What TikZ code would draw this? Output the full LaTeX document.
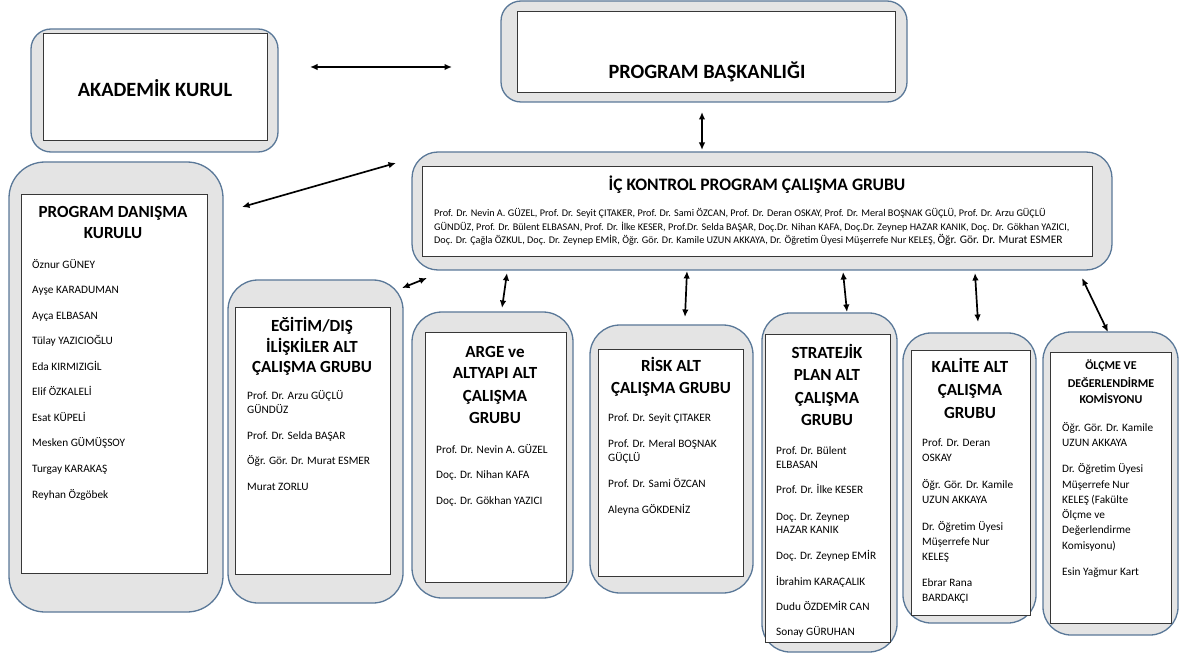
\documentclass[tikz,border=0pt]{standalone}
\usepackage{fontspec}
\setmainfont{Carlito}
\usetikzlibrary{arrows.meta,calc}
\definecolor{outline}{RGB}{90,120,152}
\definecolor{outerfill}{RGB}{228,228,228}
\definecolor{innerline}{RGB}{55,55,55}
\tikzset{
 outerbox/.style={draw=outline, fill=outerfill, line width=1.3pt, inner sep=0pt, outer sep=0pt, anchor=north west},
 innerbox/.style={draw=innerline, fill=white, line width=1pt, inner sep=0pt, outer sep=0pt, anchor=north west},
 ttl/.style={anchor=base, inner sep=0pt, font=\bfseries\fontsize{17}{20}\selectfont},
 bigttl/.style={anchor=base, inner sep=0pt, font=\bfseries\fontsize{20.3}{23}\selectfont},
 icttl/.style={anchor=base, inner sep=0pt, font=\bfseries\fontsize{17.5}{20}\selectfont},
 ttlsmall/.style={anchor=base, inner sep=0pt, font=\bfseries\fontsize{12}{14}\selectfont},
 itemtxt/.style={anchor=base west, inner sep=0pt, font=\fontsize{11.3}{13}\selectfont},
 bodytxt/.style={anchor=base west, inner sep=0pt, font=\fontsize{10.2}{12}\selectfont},
 arr/.style={{Latex[length=7.5pt,width=6.5pt]}-{Latex[length=7.5pt,width=6.5pt]}, line width=1.7pt, black},
}
\newcommand\mybox[6]{\node[outerbox, rounded corners=#6pt, minimum width={(#4-#2)*1pt}, minimum height={(#5-#3)*1pt}] (#1) at (#2,#3) {};}
\newcommand\myinner[5]{\node[innerbox, minimum width={(#4-#2)*1pt}, minimum height={(#5-#3)*1pt}] (#1) at (#2,#3) {};}
\begin{document}
\begin{tikzpicture}[x=1pt,y=-1pt]
\useasboundingbox (0,0) rectangle (1179,655);

% AKADEMIK KURUL
\mybox{ak}{31}{29}{278}{152}{20}
\myinner{akin}{43}{34}{267}{141}
\node[bigttl] (akt) at (155,96.5) {AKADEMİK KURUL};

% PROGRAM BASKANLIGI
\mybox{pb}{501}{1}{907}{102}{20}
\myinner{pbin}{517}{12}{895}{93}
\node[bigttl] (pbt) at (707,78.5) {PROGRAM BAŞKANLIĞI};

% IC KONTROL
\mybox{ic}{412}{152}{1112}{270}{26}
\myinner{icin}{422}{167}{1092}{257}
\node[icttl] (ict) at (757,190.8) {İÇ KONTROL PROGRAM ÇALIŞMA GRUBU};
\node[bodytxt] (icb1) at (434,216.3) {Prof. Dr. Nevin A. GÜZEL, Prof. Dr. Seyit ÇITAKER, Prof. Dr. Sami ÖZCAN, Prof. Dr. Deran OSKAY, Prof. Dr. Meral BOŞNAK GÜÇLÜ, Prof. Dr. Arzu GÜÇLÜ};
\node[bodytxt] (icb2) at (434,230.3) {GÜNDÜZ, Prof. Dr. Bülent ELBASAN, Prof. Dr. İlke KESER, Prof.Dr. Selda BAŞAR, Doç.Dr. Nihan KAFA, Doç.Dr. Zeynep HAZAR KANIK, Doç. Dr. Gökhan YAZICI,};
\node[bodytxt] (icb3) at (434,243.3) {Doç. Dr. Çağla ÖZKUL, Doç. Dr. Zeynep EMİR, Öğr. Gör. Dr. Kamile UZUN AKKAYA, Dr. Öğretim Üyesi Müşerrefe Nur KELEŞ, {\fontsize{11.5}{13}\selectfont Öğr. Gör. Dr. Murat ESMER}};

% PROGRAM DANISMA KURULU
\mybox{pdk}{9}{162}{223}{612}{36}
\myinner{pdkin}{21}{195}{207}{573}
\foreach \yy/\txt [count=\i] in {212/PROGRAM DANIŞMA, 233/KURULU}
  \node[ttl] (pdkt\i) at (113,\yy+5.5) {\txt};
\foreach \yy/\txt [count=\i] in {265/Öznur GÜNEY, 290/Ayşe KARADUMAN, 316/Ayça ELBASAN, 341/Tülay YAZICIOĞLU, 367/Eda KIRMIZIGİL, 392/Elif ÖZKALELİ, 418/Esat KÜPELİ, 443/Mesken GÜMÜŞSOY, 469/Turgay KARAKAŞ, 495/Reyhan Özgöbek}
  \node[itemtxt] (pdki\i) at (32,\yy+3.6) {\txt};

% EGITIM
\mybox{egt}{228}{280}{403}{603}{30}
\myinner{egtin}{235}{308}{390}{574}
\foreach \yy/\txt [count=\i] in {326/{EĞİTİM/DIŞ}, 347/İLİŞKİLER ALT, 367/ÇALIŞMA GRUBU}
  \node[ttl] (egtt\i) at (312,\yy+5.5) {\txt};
\foreach \yy/\txt [count=\i] in {396/Prof. Dr. Arzu GÜÇLÜ, 410/GÜNDÜZ, 436/Prof. Dr. Selda BAŞAR, 461/Öğr. Gör. Dr. Murat ESMER, 487/Murat ZORLU}
  \node[itemtxt] (egti\i) at (247,\yy+3.6) {\txt};

% ARGE
\mybox{arge}{412}{312}{573}{598}{30}
\myinner{argein}{425}{333}{566}{582}
\foreach \yy/\txt [count=\i] in {352/ARGE ve, 373/ALTYAPI ALT, 396/ÇALIŞMA, 418/GRUBU}
  \node[ttl] (arget\i) at (495,\yy+5.5) {\txt};
\foreach \yy/\txt [count=\i] in {450/Prof. Dr. Nevin A. GÜZEL, 475/Doç. Dr. Nihan KAFA, 501/Doç. Dr. Gökhan YAZICI}
  \node[itemtxt] (argei\i) at (436,\yy+3.6) {\txt};

% RISK
\mybox{risk}{590}{325}{753}{593}{30}
\myinner{riskin}{598}{349}{743}{576}
\foreach \yy/\txt [count=\i] in {366/RİSK ALT, 388/ÇALIŞMA GRUBU}
  \node[ttl] (riskt\i) at (671,\yy+5.5) {\txt};
\foreach \yy/\txt [count=\i] in {418/Prof. Dr. Seyit ÇITAKER, 444/Prof. Dr. Meral BOŞNAK, 458/GÜÇLÜ, 484/Prof. Dr. Sami ÖZCAN, 510/Aleyna GÖKDENİZ}
  \node[itemtxt] (riski\i) at (608,\yy+3.6) {\txt};

% STRATEJIK
\mybox{str}{762}{313}{897}{652}{28}
\myinner{strin}{765}{335}{890}{642}
\foreach \yy/\txt [count=\i] in {353/STRATEJİK, 375/PLAN ALT, 398/ÇALIŞMA, 420/GRUBU}
  \node[ttl] (strt\i) at (827,\yy+5.5) {\txt};
\foreach \yy/\txt [count=\i] in {451/Prof. Dr. Bülent, 465/ELBASAN, 490/Prof. Dr. İlke KESER, 517/Doç. Dr. Zeynep, 530/HAZAR KANIK, 556/Doç. Dr. Zeynep EMİR, 582/İbrahim KARAÇALIK, 607/Dudu ÖZDEMİR CAN, 632/Sonay GÜRUHAN}
  \node[itemtxt] (stri\i) at (776,\yy+3.6) {\txt};

% KALITE
\mybox{kal}{903}{333}{1036}{623}{28}
\myinner{kalin}{911}{350}{1030}{615}
\foreach \yy/\txt [count=\i] in {367/KALİTE ALT, 390/ÇALIŞMA, 413/GRUBU}
  \node[ttl] (kalt\i) at (970,\yy+5.5) {\txt};
\foreach \yy/\txt [count=\i] in {443/Prof. Dr. Deran, 458/OSKAY, 485/Öğr. Gör. Dr. Kamile, 500/UZUN AKKAYA, 527/Dr. Öğretim Üyesi, 542/Müşerrefe Nur, 557/KELEŞ, 583/Ebrar Rana, 598/BARDAKÇI}
  \node[itemtxt] (kali\i) at (922,\yy+3.6) {\txt};

% OLCME
\mybox{olc}{1043}{332}{1178}{635}{28}
\myinner{olcin}{1050}{352}{1171}{623}
\foreach \yy/\txt [count=\i] in {366/ÖLÇME VE, 383/DEĞERLENDİRME, 399/KOMİSYONU}
  \node[ttlsmall] (olct\i) at (1111,\yy+4) {\txt};
\foreach \yy/\txt [count=\i] in {428/Öğr. Gör. Dr. Kamile, 443/UZUN AKKAYA, 469/Dr. Öğretim Üyesi, 485/Müşerrefe Nur, 500/KELEŞ (Fakülte, 515/Ölçme ve, 530/Değerlendirme, 546/Komisyonu), 572/Esin Yağmur Kart}
  \node[itemtxt] (olci\i) at (1062,\yy+3.6) {\txt};

% connectors
\draw[arr] ($(ak.north east)+(32,38)$) -- ($(pb.north west)+(-49,66)$);
\draw[arr] ($(pb.south west)+(201,10)$) -- ($(ic.north west)+(290,-2)$);
\draw[arr] ($(pdk.north east)+(19,45)$) -- ($(ic.north west)+(-16,11)$);
\draw[arr] ($(ic.south west)+(15,8)$) -- ($(egt.north east)+(-1,8)$);
\draw[arr] ($(ic.south west)+(95,3)$) -- ($(arge.north west)+(90,-4)$);
\draw[arr] ($(ic.south west)+(275,1)$) -- ($(risk.north west)+(95,-8)$);
\draw[arr] ($(ic.south west)+(431,2)$) -- ($(str.north west)+(85,-1)$);
\draw[arr] ($(ic.south west)+(563,3)$) -- ($(kal.north west)+(75,-11)$);
\draw[arr] ($(ic.south west)+(670,8)$) -- ($(olc.north west)+(65,0)$);
\end{tikzpicture}
\end{document}
